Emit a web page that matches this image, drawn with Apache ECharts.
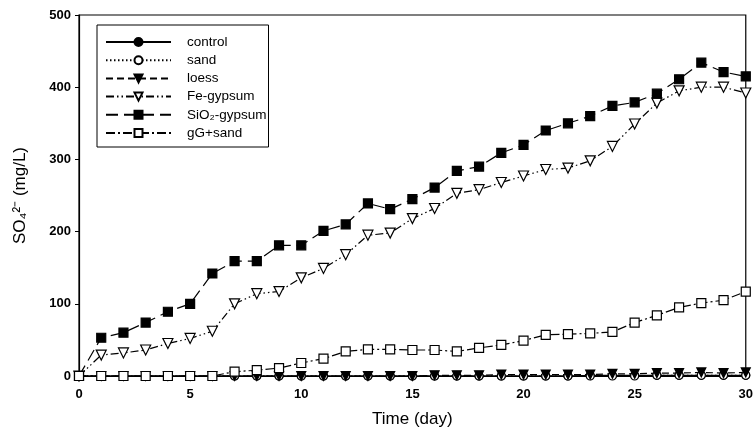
<!DOCTYPE html>
<html>
<head>
<meta charset="utf-8">
<script src="https://cdn.jsdelivr.net/npm/echarts@6/dist/echarts.min.js"></script>
<style>html,body{margin:0;padding:0;background:#fff}#c{width:756px;height:439px}</style>
</head>
<body>
<div id="c"></div>
<script>
var days = [0,1,2,3,4,5,6,7,8,9,10,11,12,13,14,15,16,17,18,19,20,21,22,23,24,25,26,27,28,29,30];
var xTicks = [0,5,10,15,20,25,30];
var yTicks = [0,100,200,300,400,500];
var control = [0,0,0,0,0,0,0,0,0,0,0,0,0,0,0,0,0,0,0,0,0,0,0,1,1,1,1,1,1,1,1];
var sand = [0,0,0,0,0,0,0,0,0,0,0,0,0,0,0,0,0,0,0,0,0,0,0,0,0,0,1,1,1,1,1];
var loess = [0,0,0,0,0,0,0,0,0,0,0,0,0,0,0,0,1,1,1,2,2,2,2,2,3,3,4,4,5,4,5];
var feGypsum = [0,29,32,36,45,52,62,100,114,117,136,149,168,195,198,218,232,253,258,268,277,286,288,298,318,349,378,395,400,400,392];
var sio2Gypsum = [0,53,60,74,89,100,142,159,159,181,181,201,210,239,231,245,261,284,290,309,320,340,350,360,374,379,391,411,434,421,415];
var gGSand = [0,0,0,0,0,0,0,6,8,11,18,24,34,37,37,36,36,34,39,43,49,57,58,59,61,74,84,95,101,105,117];

function pairs(v){ return days.map(function(d,i){ return [d, v[i]]; }); }

var chart = echarts.init(document.getElementById('c'));
var FONT = 'Liberation Sans, Arial, sans-serif';
function mk(name, data, symbol, size, filled, dash, rot){
  return {
    name: name, type: 'line', data: pairs(data),
    symbol: symbol, symbolSize: size, symbolRotate: rot || 0,
    showSymbol: true, clip: false,
    lineStyle: {color: '#000', width: 1.2, type: dash},
    itemStyle: {color: filled ? '#000' : '#fff', borderColor: '#000', borderWidth: 1.2},
    emphasis: {disabled: true},
    animation: false
  };
}
chart.setOption({
  animation: false,
  backgroundColor: '#fff',
  grid: {left: 79, right: 3, top: 15, bottom: 63, show: true, borderColor: '#000', borderWidth: 1.2, backgroundColor: 'transparent'},
  legend: {
    orient: 'vertical', left: 97, top: 25, itemWidth: 65, itemHeight: 10, itemGap: 4.2,
    padding: [10, 2, 7, 8],
    backgroundColor: '#fff', borderColor: '#000', borderWidth: 1, borderRadius: 0,
    textStyle: {fontFamily: FONT, fontSize: 13.5, color: '#000', padding: [0,0,0,11]},
    data: ['control','sand','loess','Fe-gypsum','SiO₂-gypsum','gG+sand']
  },
  xAxis: {
    type: 'value', min: 0, max: 30, interval: 5,
    name: 'Time (day)', nameLocation: 'middle', nameGap: 35,
    nameTextStyle: {fontFamily: FONT, fontSize: 17, color: '#000'},
    axisLine: {lineStyle: {color: '#000', width: 1.2}},
    axisTick: {show: false},
    axisLabel: {fontFamily: FONT, fontSize: 13, fontWeight: 'bold', color: '#000', margin: 12,
      formatter: function(v){ return xTicks.indexOf(v) >= 0 ? String(v) : ''; }},
    splitLine: {show: false}
  },
  yAxis: {
    type: 'value', min: 0, max: 500, interval: 100,
    name: 'SO₄²⁻ (mg/L)', nameLocation: 'middle', nameGap: 50, nameRotate: 90,
    nameTextStyle: {fontFamily: FONT, fontSize: 17, color: '#000'},
    axisLine: {show: true, lineStyle: {color: '#000', width: 1.2}},
    axisTick: {show: true, inside: false, length: 4, lineStyle: {color: '#000'}},
    axisLabel: {fontFamily: FONT, fontSize: 13, fontWeight: 'bold', color: '#000', margin: 8,
      formatter: function(v){ return yTicks.indexOf(v) >= 0 ? String(v) : ''; }},
    splitLine: {show: false}
  },
  series: [
    mk('control', control, 'circle', 8, true, 'solid'),
    mk('sand', sand, 'circle', 8, false, [1.5, 2.5]),
    mk('loess', loess, 'triangle', 9, true, [7, 4], 180),
    mk('Fe-gypsum', feGypsum, 'triangle', 10, false, [8, 3, 1.5, 3, 1.5, 3], 180),
    mk('SiO₂-gypsum', sio2Gypsum, 'rect', 9, true, [12, 6]),
    mk('gG+sand', gGSand, 'rect', 9, false, [9, 3, 2, 3])
  ]
});
</script>
</body>
</html>
